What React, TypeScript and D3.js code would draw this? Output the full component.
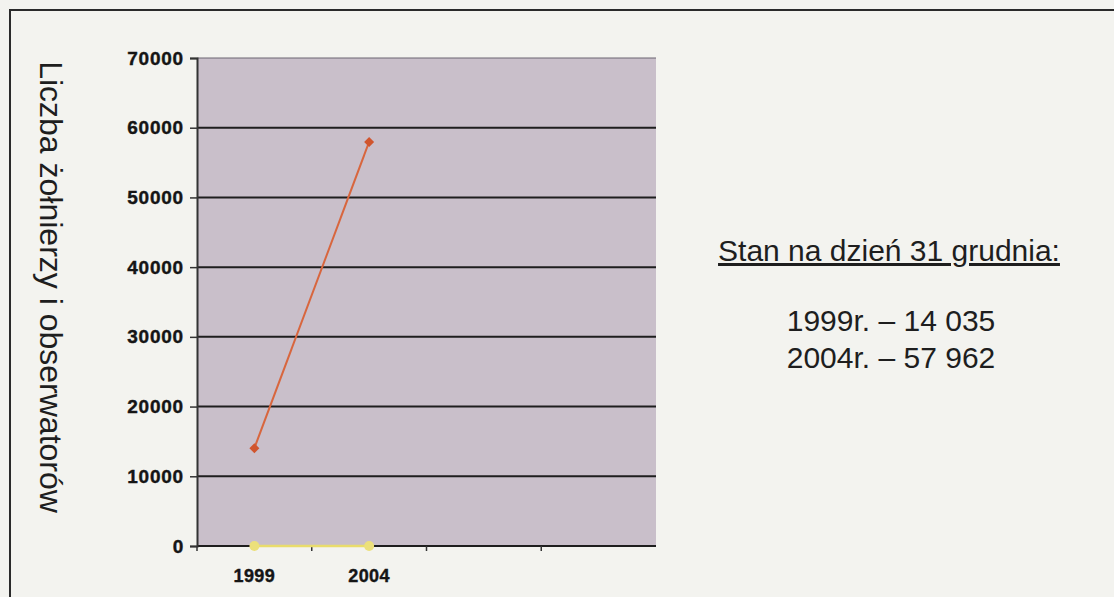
import { useEffect, useRef } from "react";
import * as d3 from "d3";

// categories on the x axis (the last two slots are empty in the original)
const categories = ["1999", "2004", "", " "];
const soldiers = [14035, 57962];
const baseline = [0, 0];
const yTicks = [0, 10000, 20000, 30000, 40000, 50000, 60000, 70000];
const yTitle = "Liczba żołnierzy i obserwatorów";
const noteTitle = "Stan na dzień 31 grudnia:";
const noteLines = ["1999r. – 14 035", "2004r. – 57 962"];

export default function App() {
  const svgRef = useRef<SVGSVGElement>(null);

  useEffect(() => {
    if (!svgRef.current) return;
    const svg = d3.select(svgRef.current);
    svg.selectAll("*").remove();

    const W = 1114;
    const H = 597;
    const plot = { left: 197, right: 656, top: 58, bottom: 546 };
    const font = "Liberation Sans, Arial, sans-serif";

    svg.append("rect").attr("width", W).attr("height", H).attr("fill", "#f3f3ef");

    // outer frame
    svg
      .append("rect")
      .attr("x", 10)
      .attr("y", 10)
      .attr("width", W + 20)
      .attr("height", H + 20)
      .attr("fill", "none")
      .attr("stroke", "#2a2a2a")
      .attr("stroke-width", 2);

    const x = d3.scaleBand().domain(categories).range([plot.left, plot.right]);
    const y = d3.scaleLinear().domain([0, 70000]).range([plot.bottom, plot.top]);

    // plot area
    svg
      .append("rect")
      .attr("x", plot.left)
      .attr("y", plot.top)
      .attr("width", plot.right - plot.left)
      .attr("height", plot.bottom - plot.top)
      .attr("fill", "#c9bfca");

    // grid lines
    svg
      .append("g")
      .selectAll("line")
      .data(yTicks)
      .join("line")
      .attr("x1", plot.left)
      .attr("x2", plot.right)
      .attr("y1", (d) => y(d))
      .attr("y2", (d) => y(d))
      .attr("stroke", (d) => (d === 70000 ? "#6b6470" : "#1e1e1e"))
      .attr("stroke-width", (d) => (d === 70000 ? 1 : 2));

    // Y axis
    const yAxis = svg
      .append("g")
      .attr("transform", `translate(${plot.left},0)`)
      .call(d3.axisLeft(y).tickValues(yTicks).tickSize(7).tickPadding(6).tickFormat(d3.format("d")));
    yAxis.select(".domain").attr("stroke", "#333").attr("stroke-width", 2);
    yAxis.selectAll(".tick line").attr("stroke", "#333").attr("stroke-width", 1.5);
    yAxis
      .selectAll(".tick text")
      .attr("fill", "#151515")
      .attr("font-family", font)
      .attr("font-weight", "bold")
      .attr("font-size", "19px")
      .attr("letter-spacing", "0.8px")
      .attr("stroke", "#151515")
      .attr("stroke-width", 0.4);

    // X axis
    const xAxis = svg
      .append("g")
      .attr("transform", `translate(0,${plot.bottom})`)
      .call(d3.axisBottom(x).tickSize(0).tickPadding(23));
    xAxis.select(".domain").remove();
    xAxis
      .selectAll(".tick text")
      .attr("fill", "#151515")
      .attr("font-family", font)
      .attr("font-weight", "bold")
      .attr("font-size", "18px")
      .attr("letter-spacing", "0.4px")
      .attr("stroke", "#151515")
      .attr("stroke-width", 0.4);

    // x tick marks at band boundaries
    svg
      .append("g")
      .selectAll("line")
      .data(categories)
      .join("line")
      .attr("x1", (d) => x(d)!)
      .attr("x2", (d) => x(d)!)
      .attr("y1", plot.bottom)
      .attr("y2", plot.bottom + 5)
      .attr("stroke", "#333")
      .attr("stroke-width", 1.5);

    const cx = (i: number) => x(categories[i])! + x.bandwidth() / 2;

    // baseline series (yellow)
    const yellowLine = d3
      .line<number>()
      .x((_, i) => cx(i))
      .y((d) => y(d));
    svg
      .append("path")
      .datum(baseline)
      .attr("fill", "none")
      .attr("stroke", "#e9dc6c")
      .attr("stroke-width", 2.5)
      .attr("d", yellowLine);
    svg
      .append("g")
      .selectAll("circle")
      .data(baseline)
      .join("circle")
      .attr("cx", (_, i) => cx(i))
      .attr("cy", (d) => y(d))
      .attr("r", 5)
      .attr("fill", "#ece07a");

    // soldiers series (red)
    const redLine = d3
      .line<number>()
      .x((_, i) => cx(i))
      .y((d) => y(d));
    svg
      .append("path")
      .datum(soldiers)
      .attr("fill", "none")
      .attr("stroke", "#d8663e")
      .attr("stroke-width", 2)
      .attr("d", redLine);
    svg
      .append("g")
      .selectAll("path")
      .data(soldiers)
      .join("path")
      .attr("d", d3.symbol(d3.symbolSquare, 50)())
      .attr("transform", (d, i) => `translate(${cx(i)},${y(d)}) rotate(45)`)
      .attr("fill", "#d0552e");

    // Y title
    svg
      .append("text")
      .attr("transform", "translate(40,287) rotate(90)")
      .attr("text-anchor", "middle")
      .attr("font-family", font)
      .attr("font-size", "32px")
      .attr("fill", "#1e1e1e")
      .text(yTitle);

    // note on the right
    const note = svg
      .append("g")
      .attr("font-family", font)
      .attr("fill", "#1e1e1e")
      .attr("text-anchor", "middle");
    note
      .append("text")
      .attr("x", 889)
      .attr("y", 261)
      .attr("font-size", "30px")
      .attr("text-decoration", "underline")
      .text(noteTitle);
    note
      .selectAll("text.line")
      .data(noteLines)
      .join("text")
      .attr("class", "line")
      .attr("x", 891)
      .attr("y", (_, i) => 331 + i * 37)
      .attr("font-size", "30px")
      .text((d) => d);
  }, []);

  return (
    <svg
      ref={svgRef}
      width={1114}
      height={597}
      style={{ position: "absolute", left: 0, top: 0, display: "block" }}
    />
  );
}
